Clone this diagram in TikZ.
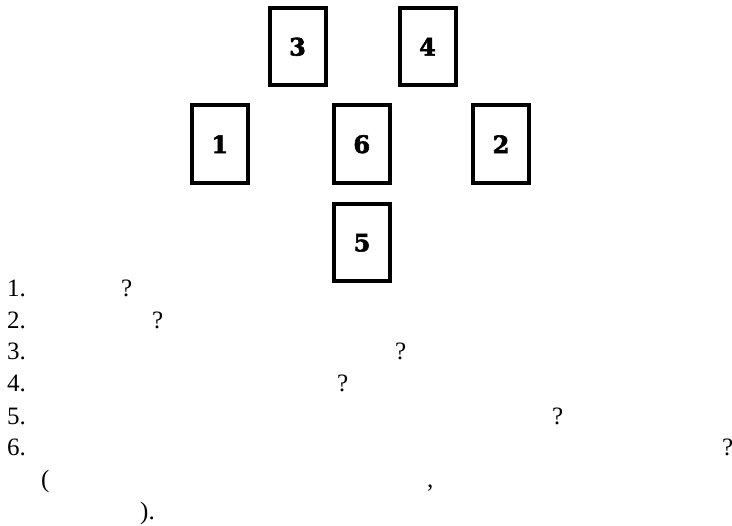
\documentclass[tikz,border=0pt]{standalone}
\usepackage{fontspec}
\setmainfont{Liberation Serif}
\newfontfamily\cardfont[UprightFont={* Bold}, FakeBold=2.5]{DejaVu Serif}
\begin{document}
\begin{tikzpicture}[x=1pt,y=-1pt,
  card/.style={draw, line width=4pt, minimum width=56pt, minimum height=77.5pt,
    inner sep=0pt, font=\cardfont\fontsize{24}{24}\selectfont},
  txt/.style={anchor=base west, inner sep=0pt, font=\fontsize{25}{30}\selectfont}]
\useasboundingbox (0,0) rectangle (732,526);
% cards
\node[card] (c3) at (297.5,46.75) {3};
\node[card] (c4) at (427.5,46.75) {4};
\node[card] (c1) at (219.75,144.25) {1};
\node[card] (c6) at (361.75,144.25) {6};
\node[card] (c2) at (501,144.25) {2};
\node[card] (c5) at (362,242.75) {5};
% list
\node[txt] (n1) at (7,297) {1.};
\node[txt] (q1) at (121,297) {?};
\node[txt] (n2) at (7,328.5) {2.};
\node[txt] (q2) at (152,328.5) {?};
\node[txt] (n3) at (7,359.5) {3.};
\node[txt] (q3) at (395,359.5) {?};
\node[txt] (n4) at (7,391.5) {4.};
\node[txt] (q4) at (337,391.5) {?};
\node[txt] (n5) at (7,424.5) {5.};
\node[txt] (q5) at (552,424.5) {?};
\node[txt] (n6) at (7,455.5) {6.};
\node[txt] (q6) at (722,455.5) {?};
\node[txt] (p1) at (41,488) {(};
\node[txt] (cm) at (427,488) {,};
\node[txt] (p2) at (140,519.5) {).};
\end{tikzpicture}
\end{document}
